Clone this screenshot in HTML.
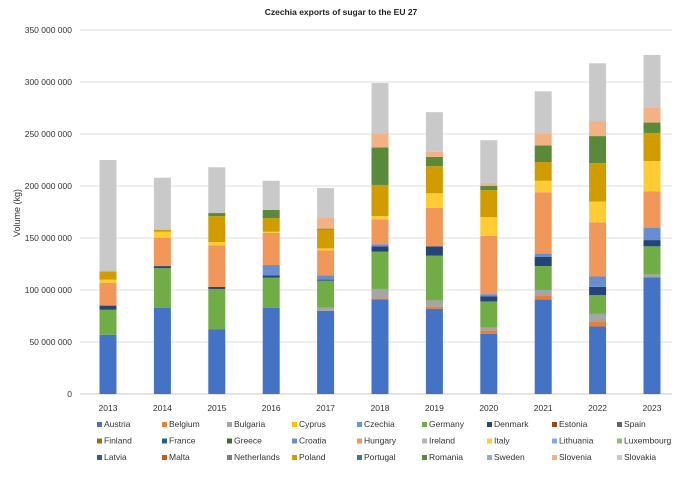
<!DOCTYPE html>
<html><head><meta charset="utf-8"><style>
body{margin:0;background:#fff;font-family:"Liberation Sans",sans-serif;}
svg text{font-family:"Liberation Sans",sans-serif;}
</style></head><body>
<svg id="chart" width="682" height="475" viewBox="0 0 682 475">
<rect width="682" height="475" fill="#fff"/>
<text x="341" y="15" text-anchor="middle" font-size="8.5" font-weight="bold" fill="#222">Czechia exports of sugar to the EU 27</text>
<text transform="translate(20,213) rotate(-90)" text-anchor="middle" font-size="9" fill="#333">Volume (kg)</text>
<g id="grid"></g><g id="bars"></g><g id="xlab"></g><g id="legend"></g>
</svg>
<script>
const years=['2013','2014','2015','2016','2017','2018','2019','2020','2021','2022','2023'];
const countries=['Austria','Belgium','Bulgaria','Cyprus','Czechia','Germany','Denmark','Estonia','Spain','Finland','France','Greece','Croatia','Hungary','Ireland','Italy','Lithuania','Luxembourg','Latvia','Malta','Netherlands','Poland','Portugal','Romania','Sweden','Slovenia','Slovakia'];
const colors=['#4472C4','#ED7D31','#A5A5A5','#FFC000','#5B9BD5','#70AD47','#264478','#9E480E','#636363','#997300','#255E91','#43682B','#698ED0','#F1975A','#B7B7B7','#FFCD33','#7CAFDD','#8CC168','#335AA1','#C65911','#7C7C7C','#D09C00','#3A75AF','#5A8A39','#8FAADC','#F4B183','#C9C9C9'];
const yTicks=[0,50,100,150,200,250,300,350];
// values in millions of kg
const austria=[57,83,62,83,80,91,82,58,91,65,112];
const belgium=[0,0,0,0,0,1,2,3,4,5,0];
const bulgaria=[0,0,0,0,3,9,6,3,5,7,3];
const germany=[24,38,39,29,26,36,43,25,23,18,27];
const denmark=[4,2,2,2,1,5,9,5,9,8,6];
const croatia=[0,0,0,10,4,2,0,2,3,10,12];
const hungary=[22,27,40,31,24,24,37,56,59,52,35];
const italy=[3,6,3,1,2,3,14,18,11,20,29];
const poland=[8,2,25,13,18,30,26,26,18,37,27];
const romania=[0,0,3,8,1,36,9,4,16,26,10];
const slovenia=[0,0,0,0,11,13,5,3,11,14,14];
const slovakia=[107,50,44,28,28,49,38,41,41,56,51];
const series={Austria:austria,Belgium:belgium,Bulgaria:bulgaria,Germany:germany,Denmark:denmark,Croatia:croatia,Hungary:hungary,Italy:italy,Poland:poland,Romania:romania,Slovenia:slovenia,Slovakia:slovakia};
const NS='http://www.w3.org/2000/svg';
const y0=394,pxPerM=364/350;
function yScale(v){return y0-v*pxPerM;}
function xScale(i){return 108+i*54.4;}
function mk(t,a,p){const e=document.createElementNS(NS,t);for(const k in a)e.setAttribute(k,a[k]);p.appendChild(e);return e;}
const grid=document.getElementById('grid');
yTicks.forEach(v=>{
 const y=yScale(v);
 const l=mk('line',{x1:80,x2:672,y1:y,y2:y,stroke:v===0?'#c8c8c8':'#dcdcdc','stroke-width':1},grid);
 
 
 const t=mk('text',{x:72,y:y+3,'text-anchor':'end','font-size':8.5,fill:'#333'},grid);
 t.textContent=v===0?'0':(v+' 000 000');
 
 
});
const bars=document.getElementById('bars'),xl=document.getElementById('xlab');
years.forEach((yr,i)=>{
 let cum=0;const cx=xScale(i);
 countries.forEach((c,ci)=>{
  const arr=series[c];if(!arr)return;const v=arr[i];if(!v)return;
  const r=mk('rect',{x:cx-8.5,width:17,y:yScale(cum+v),height:v*pxPerM,fill:colors[ci]},bars);
  
  
  cum+=v;
 });
 const t=mk('text',{x:cx,y:411,'text-anchor':'middle','font-size':8.5,fill:'#333'},xl);
 t.textContent=yr;
 
 
});
const lg=document.getElementById('legend');
countries.forEach((c,i)=>{
 const col=i%9,row=Math.floor(i/9);const x=100+col*65,y=427+row*16.5;
 const g=mk('g',{},lg);
 
 
 mk('rect',{x:x-3,y:y-5,width:5,height:5,fill:colors[i]},g);
 const t=mk('text',{x:x+4,y:y,'font-size':8.5,fill:'#333'},g);
 t.textContent=c;
});
</script>
</body></html>
